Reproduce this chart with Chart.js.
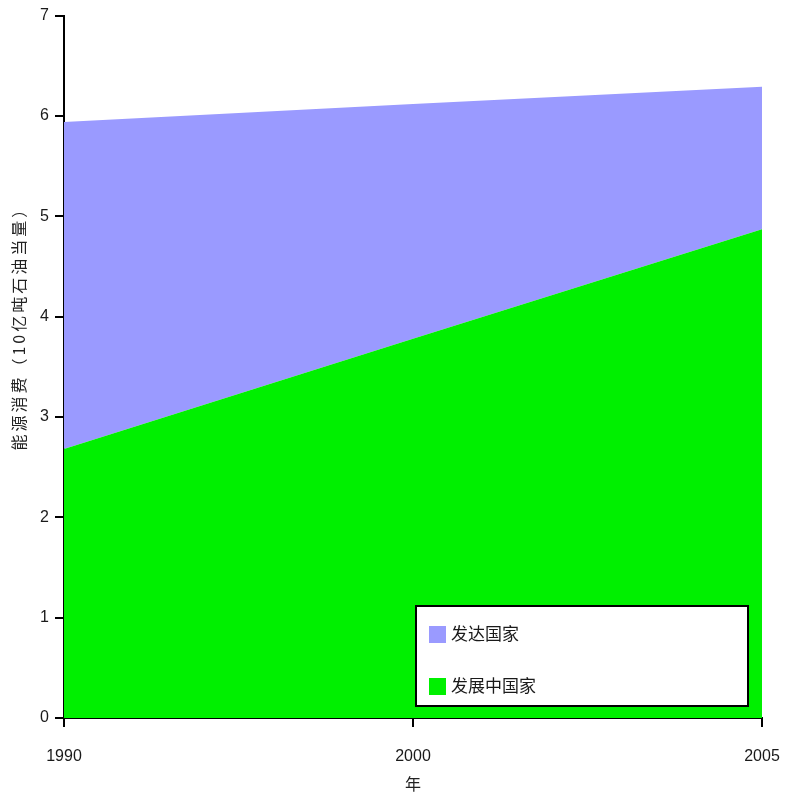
<!DOCTYPE html>
<html>
<head>
<meta charset="utf-8">
<script src="https://cdn.jsdelivr.net/npm/chart.js@4"></script>
<style>
  html, body { margin: 0; padding: 0; background: #fff; }
  #wrap { width: 791px; height: 796px; }
</style>
</head>
<body>
<div id="wrap"><canvas id="energyChart" width="791" height="796"></canvas></div>
<script>
// years on the x axis (evenly spaced categories)
const years = ['1990', '2000', '2005'];
// energy use, billion tonnes oil equivalent (stacked)
const developing = [2.68, 3.78, 4.87];
const developed = [3.26, 2.34, 1.42];
const seriesNames = ['发展中国家', '发达国家'];
const seriesColors = ['#00f000', '#9a9aff'];
const yTicks = [0, 1, 2, 3, 4, 5, 6, 7];
const yTitle = '能源消费（10亿吨石油当量）';

const cjkFont = '"Noto Sans CJK SC", "DejaVu Sans", sans-serif';
const numFont = '"Liberation Sans", Arial, sans-serif';

// white boxed legend inside the plot (bottom right) + rotated y title
const extras = {
    id: 'extras',
    afterDraw(chart) {
        const ctx = chart.ctx;
        const area = chart.chartArea;
        const w = 332, h = 100;
        const x = area.right - 14 - w;
        const y = area.bottom - 12 - h;
        ctx.save();
        ctx.fillStyle = '#fff';
        ctx.fillRect(x, y, w, h);
        ctx.lineWidth = 2;
        ctx.strokeStyle = '#000';
        ctx.strokeRect(x, y, w, h);
        const order = [1, 0];
        ctx.font = '17px ' + cjkFont;
        ctx.textBaseline = 'middle';
        order.forEach(function(idx, i) {
            const cy = y + 28 + i * 52;
            ctx.fillStyle = seriesColors[idx];
            ctx.fillRect(x + 13, cy - 8, 17, 17);
            ctx.fillStyle = '#1a1a1a';
            ctx.fillText(seriesNames[idx], x + 35, cy);
        });
        ctx.restore();

        // y axis title
        ctx.save();
        ctx.translate(19, area.top + (area.bottom - area.top) * 0.44);
        ctx.rotate(-Math.PI / 2);
        ctx.font = '16px ' + cjkFont;
        if ('letterSpacing' in ctx) ctx.letterSpacing = '3px';
        ctx.fillStyle = '#222';
        ctx.textAlign = 'center';
        ctx.textBaseline = 'middle';
        ctx.fillText(yTitle, 0, 0);
        ctx.restore();
    }
};

new Chart(document.getElementById('energyChart').getContext('2d'), {
    type: 'line',
    data: {
        labels: years,
        datasets: [{
            label: seriesNames[0],
            data: developing,
            backgroundColor: seriesColors[0],
            borderWidth: 0,
            pointRadius: 0,
            fill: 'origin',
            tension: 0
        }, {
            label: seriesNames[1],
            data: developed,
            backgroundColor: seriesColors[1],
            borderWidth: 0,
            pointRadius: 0,
            fill: '-1',
            tension: 0
        }]
    },
    options: {
        responsive: false,
        animation: false,
        layout: { padding: { top: 14, right: 29, left: 0, bottom: 0 } },
        plugins: {
            legend: { display: false },
            tooltip: { enabled: false }
        },
        scales: {
            x: {
                type: 'category',
                offset: false,
                grid: { display: true, drawOnChartArea: false, drawTicks: true, tickLength: 9, color: '#000', lineWidth: 2 },
                border: { display: true, color: '#000', width: 2 },
                ticks: { color: '#1a1a1a', font: { size: 16, family: numFont }, padding: 20, maxRotation: 0 },
                title: { display: true, text: '年', color: '#222', font: { size: 16, family: cjkFont }, padding: { top: 4, bottom: 2 } },
                afterFit: function(scale) {
                    scale.height = 78;
                    scale.paddingLeft = 0;
                    scale.paddingRight = 0;
                }
            },
            y: {
                stacked: true,
                min: 0,
                max: 7,
                afterBuildTicks: function(scale) { scale.ticks = yTicks.map(function(v) { return { value: v }; }); },
                grid: { display: true, drawOnChartArea: false, drawTicks: true, tickLength: 9, color: '#000', lineWidth: 2 },
                border: { display: true, color: '#000', width: 2 },
                ticks: { color: '#1a1a1a', font: { size: 16, family: numFont }, padding: 6 },
                afterFit: function(scale) { scale.width = 64; }
            }
        }
    },
    plugins: [extras]
});
</script>
</body>
</html>
